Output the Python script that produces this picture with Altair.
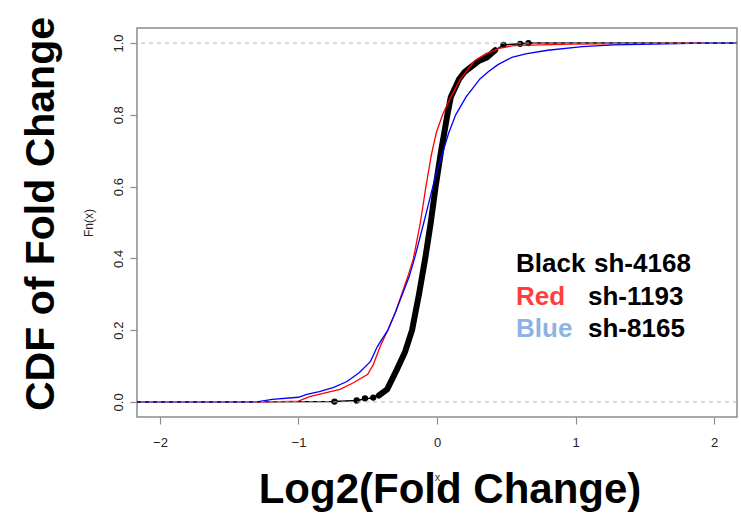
import altair as alt
import pandas as pd

# ---------------- data ----------------
x_ticks = [-2, -1, 0, 1, 2]
y_ticks = [0.0, 0.2, 0.4, 0.6, 0.8, 1.0]

# sh-4168 (black): outline incl. sparse tails
black_x = [-2.3, -0.74, -0.58, -0.52, -0.46, -0.42, -0.36, -0.29, -0.23, -0.18, -0.13,
           -0.085, -0.045, -0.01, 0.03, 0.075, 0.10, 0.16, 0.20, 0.30, 0.36, 0.42,
           0.48, 0.60, 0.66, 2.3]
black_y = [0.0, 0.001, 0.004, 0.008, 0.012, 0.018, 0.035, 0.09, 0.14, 0.2, 0.3,
           0.4, 0.5, 0.6, 0.7, 0.8, 0.85, 0.9, 0.92, 0.95, 0.96, 0.98,
           0.995, 0.998, 1.0, 1.0]
# dense part of the black ECDF (drawn thick: overlapping points)
black_dense_x = [-0.42, -0.36, -0.29, -0.23, -0.18, -0.13, -0.085, -0.045, -0.01,
                 0.03, 0.075, 0.10, 0.16, 0.20, 0.30, 0.36, 0.42]
black_dense_y = [0.018, 0.035, 0.09, 0.14, 0.2, 0.3, 0.4, 0.5, 0.6,
                 0.7, 0.8, 0.85, 0.9, 0.92, 0.95, 0.96, 0.98]
# isolated black points in the tails
black_dot_x = [-0.74, -0.58, -0.52, -0.46, 0.48, 0.60, 0.66]
black_dot_y = [0.001, 0.004, 0.01, 0.012, 0.995, 0.998, 1.0]

# sh-1193 (red)
red_x = [-2.3, -1.20, -1.0, -0.92, -0.80, -0.70, -0.60, -0.50, -0.46, -0.41, -0.355,
         -0.30, -0.255, -0.21, -0.17, -0.12, -0.08, -0.04, -0.005, 0.04, 0.10,
         0.17, 0.27, 0.35, 0.45, 0.55, 0.96, 1.92]
red_y = [0.0, 0.0, 0.002, 0.015, 0.026, 0.035, 0.054, 0.077, 0.104, 0.155, 0.2,
         0.25, 0.3, 0.35, 0.4, 0.5, 0.6, 0.69, 0.75, 0.8, 0.85,
         0.9, 0.95, 0.97, 0.985, 0.993, 0.997, 1.0]

# sh-8165 (blue)
blue_x = [-2.3, -1.30, -1.19, -1.0, -0.94, -0.85, -0.75, -0.65, -0.56, -0.48, -0.43,
          -0.355, -0.30, -0.25, -0.20, -0.162, -0.095, -0.03, 0.005, 0.045, 0.085,
          0.135, 0.21, 0.27, 0.31, 0.37, 0.44, 0.54, 0.64, 0.80, 1.05, 1.28, 1.93, 2.3]
blue_y = [0.0, 0.0, 0.007, 0.013, 0.021, 0.029, 0.04, 0.057, 0.082, 0.113, 0.155,
          0.2, 0.25, 0.3, 0.35, 0.4, 0.5, 0.6, 0.65, 0.7, 0.75,
          0.8, 0.85, 0.88, 0.9, 0.92, 0.94, 0.96, 0.97, 0.98, 0.99, 0.995, 1.0, 1.0]

ref_lines = [0.0, 1.0]

legend_names = ["Black", "Red", "Blue"]
legend_ids = ["sh-4168", "sh-1193", "sh-8165"]
legend_colors = ["#000000", "#ff3f3f", "#8db3e2"]

y_title_big = "CDF of Fold Change"
x_title_big = "Log2(Fold Change)"

# ---------------- chart ----------------
FONT = "Liberation Sans"
xscale = alt.Scale(domain=[-2.166, 2.166], nice=False, zero=False)
yscale = alt.Scale(domain=[-0.042, 1.042], nice=False, zero=False)

X = alt.X("x:Q", scale=xscale,
          axis=alt.Axis(values=x_ticks, format="d", title="x", titleFont=FONT,
                        titleFontSize=11, titleFontWeight="normal", titleColor="#333",
                        titlePadding=22, labelFont=FONT, labelFontSize=13,
                        labelPadding=12, labelColor="#222", tickSize=7,
                        tickColor="#8c8c8c", tickWidth=1.2, domain=False,
                        grid=False, labelFlush=False))
Y = alt.Y("y:Q", scale=yscale,
          axis=alt.Axis(values=y_ticks, format=".1f", title="Fn(x)", titleFont=FONT,
                        titleFontSize=12, titleFontWeight="normal", titleColor="#222",
                        titlePadding=17, labelFont=FONT, labelFontSize=13,
                        labelAngle=270, labelAlign="center", labelBaseline="bottom",
                        labelPadding=5, labelColor="#222", tickSize=7,
                        tickColor="#8c8c8c", tickWidth=1.2, domain=False,
                        grid=False, labelFlush=False))

black_df = pd.DataFrame({"x": black_x, "y": black_y})
black_dense_df = pd.DataFrame({"x": black_dense_x, "y": black_dense_y})
black_dot_df = pd.DataFrame({"x": black_dot_x, "y": black_dot_y})
red_df = pd.DataFrame({"x": red_x, "y": red_y})
blue_df = pd.DataFrame({"x": blue_x, "y": blue_y})
ref_df = pd.DataFrame({"y": ref_lines})

black_thin = alt.Chart(black_df).mark_line(color="black", strokeWidth=1.5,
                                           clip=True).encode(x=X, y=Y)
black_thick = alt.Chart(black_dense_df).mark_line(color="black", strokeWidth=6, clip=True,
                                                  strokeCap="round", strokeJoin="round").encode(x=X, y=Y)
black_pts = alt.Chart(black_dot_df).mark_circle(color="black", size=40, opacity=1,
                                                clip=True).encode(x=X, y=Y)
red_line = alt.Chart(red_df).mark_line(color="#ff0000", strokeWidth=1.3,
                                       clip=True).encode(x=X, y=Y)
blue_line = alt.Chart(blue_df).mark_line(color="#0000ff", strokeWidth=1.3,
                                         clip=True).encode(x=X, y=Y)
ref_rules = alt.Chart(ref_df).mark_rule(color="#b3b3b3", strokeDash=[4, 4],
                                        strokeWidth=1).encode(y=Y)


def txt(label, px, py, size, color="black", angle=0, align="left", weight="bold"):
    d = pd.DataFrame({"t": [label]})
    return alt.Chart(d).mark_text(font=FONT, fontSize=size, fontWeight=weight,
                                  color=color, align=align, baseline="alphabetic",
                                  angle=angle).encode(
        text="t:N", x=alt.value(px), y=alt.value(py))


texts = [
    txt(y_title_big, -83, 186, 41, angle=270, align="center"),
    txt(x_title_big, 313, 475, 42, align="center"),
    txt(legend_names[0], 379, 244, 26, color=legend_colors[0]),
    txt(legend_ids[0], 457, 244, 26),
    txt(legend_names[1], 379, 277, 26, color=legend_colors[1]),
    txt(legend_ids[1], 451, 277, 26),
    txt(legend_names[2], 379, 309, 26, color=legend_colors[2]),
    txt(legend_ids[2], 451, 309, 26),
]

chart = alt.layer(black_thin, black_thick, black_pts, red_line, blue_line, ref_rules,
                  *texts).properties(
    width=600, height=389,
    autosize=alt.AutoSizeParams(type="none"),
    padding={"left": 137, "top": 28, "right": 4, "bottom": 98},
    background="white",
).configure_view(stroke="#8c8c8c", strokeWidth=1.5)

chart.save("out.html", embed_options={"renderer": "svg", "actions": False})
